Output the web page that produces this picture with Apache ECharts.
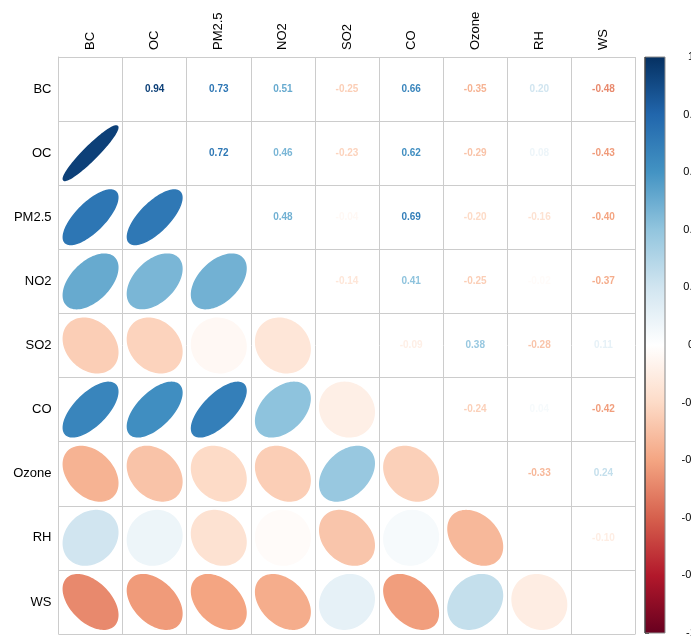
<!DOCTYPE html>
<html>
<head>
<meta charset="utf-8">
<script src="https://cdn.jsdelivr.net/npm/echarts@6/dist/echarts.min.js"></script>
<style>
  html, body { margin: 0; padding: 0; background: #ffffff; }
  #chart { width: 691px; height: 639px; }
</style>
</head>
<body>
<div id="chart"></div>
<script>
// Variables of the correlation matrix
const variables = ['BC', 'OC', 'PM2.5', 'NO2', 'SO2', 'CO', 'Ozone', 'RH', 'WS'];

// Pearson correlation coefficients, one row per variable
const rowBC    = [ 1.00,  0.94,  0.73,  0.51, -0.25,  0.66, -0.35,  0.20, -0.48];
const rowOC    = [ 0.94,  1.00,  0.72,  0.46, -0.23,  0.62, -0.29,  0.08, -0.43];
const rowPM25  = [ 0.73,  0.72,  1.00,  0.48, -0.04,  0.69, -0.20, -0.16, -0.40];
const rowNO2   = [ 0.51,  0.46,  0.48,  1.00, -0.14,  0.41, -0.25, -0.02, -0.37];
const rowSO2   = [-0.25, -0.23, -0.04, -0.14,  1.00, -0.09,  0.38, -0.28,  0.11];
const rowCO    = [ 0.66,  0.62,  0.69,  0.41, -0.09,  1.00, -0.24,  0.04, -0.42];
const rowOzone = [-0.35, -0.29, -0.20, -0.25,  0.38, -0.24,  1.00, -0.33,  0.24];
const rowRH    = [ 0.20,  0.08, -0.16, -0.02, -0.28,  0.04, -0.33,  1.00, -0.10];
const rowWS    = [-0.48, -0.43, -0.40, -0.37,  0.11, -0.42,  0.24, -0.10,  1.00];

// Colour legend tick labels, bottom to top
const legendTicks = ['-1', '-0.8', '-0.6', '-0.4', '-0.2', '0', '0.2', '0.4', '0.6', '0.8', '1'];

// Diverging red-blue palette from -1 to 1
const palette = ['#67001F', '#B2182B', '#D6604D', '#F4A582', '#FDDBC7', '#FFFFFF',
                 '#D1E5F0', '#92C5DE', '#4393C3', '#2166AC', '#053061'];

const matrix = [rowBC, rowOC, rowPM25, rowNO2, rowSO2, rowCO, rowOzone, rowRH, rowWS];

// Lower triangle -> ellipses, upper triangle -> numbers
const lowerCells = [];
const upperCells = [];
matrix.forEach(function (row, i) {
  row.forEach(function (r, j) {
    if (i > j) lowerCells.push([j, i, r]);
    else if (j > i) upperCells.push([j, i, r]);
  });
});

const FONT = '"Liberation Sans", Arial, sans-serif';
const GRID_LINE = '#cccccc';

function renderEllipse(params, api) {
  const c = api.coord([api.value(0), api.value(1)]);
  const s = api.size([1, 1]);
  const r = api.value(2);
  const a = Math.acos(r);
  const pts = [];
  const n = 99;
  for (let i = 0; i < n; i++) {
    const k = 2 * Math.PI * i / (n - 1);
    const x = Math.cos(k + a / 2) / 2 * 0.85;
    const y = Math.cos(k - a / 2) / 2 * 0.85;
    pts.push([c[0] + x * s[0], c[1] - y * s[1]]);
  }
  const col = api.visual('color');
  return {
    type: 'polygon',
    shape: { points: pts },
    style: { fill: col, stroke: col, lineWidth: 1.5 }
  };
}

function renderNumber(params, api) {
  const c = api.coord([api.value(0), api.value(1)]);
  const r = api.value(2);
  return {
    type: 'text',
    style: {
      x: c[0], y: c[1],
      text: r.toFixed(2),
      textAlign: 'center',
      textVerticalAlign: 'middle',
      fill: api.visual('color'),
      font: 'bold 10px ' + FONT
    }
  };
}

function renderLegendBar(params, api) {
  const p0 = api.coord([0, 1]);
  const p1 = api.coord([1, -1]);
  const stops = palette.slice().reverse().map(function (col, i) {
    return { offset: i / (palette.length - 1), color: col };
  });
  return {
    type: 'group',
    children: [
      {
        type: 'rect',
        shape: { x: p0[0], y: p0[1], width: p1[0] - p0[0], height: p1[1] - p0[1] },
        style: {
          fill: new echarts.graphic.LinearGradient(0, 0, 0, 1, stops),
          stroke: '#8c8c8c', lineWidth: 1
        }
      },
      {
        type: 'line',
        shape: { x1: p0[0], y1: p0[1], x2: p0[0], y2: p1[1] },
        style: { stroke: '#222222', lineWidth: 1 }
      }
    ]
  };
}

const chart = echarts.init(document.getElementById('chart'), null, { renderer: 'canvas' });

chart.setOption({
  backgroundColor: '#ffffff',
  animation: false,
  grid: [
    { left: 58.5, top: 57, width: 577, height: 577, outerBoundsMode: 'none', containLabel: false },
    { left: 645, top: 57, width: 20, height: 576, outerBoundsMode: 'none', containLabel: false }
  ],
  xAxis: [
    {
      type: 'category', gridIndex: 0, data: variables, position: 'top',
      axisLine: { show: true, lineStyle: { color: GRID_LINE, width: 1 } },
      axisTick: { show: false },
      axisLabel: { rotate: -90, margin: 7, fontSize: 13, color: '#000000', fontFamily: FONT, interval: 0 },
      splitLine: { show: true, interval: 0, lineStyle: { color: GRID_LINE, width: 1 } }
    },
    {
      type: 'value', gridIndex: 1, min: 0, max: 1, show: false
    }
  ],
  yAxis: [
    {
      type: 'category', gridIndex: 0, data: variables, inverse: true,
      axisLine: { show: true, lineStyle: { color: GRID_LINE, width: 1 } },
      axisTick: { show: false },
      axisLabel: { margin: 7, fontSize: 13, color: '#000000', fontFamily: FONT, interval: 0 },
      splitLine: { show: true, interval: 0, lineStyle: { color: GRID_LINE, width: 1 } }
    },
    {
      type: 'value', gridIndex: 1, min: -1, max: 1, interval: 0.2, position: 'right',
      axisLine: { show: false },
      axisTick: { show: true, length: 4, lineStyle: { color: '#333333', width: 1 } },
      axisLabel: {
        margin: 26, fontSize: 11, color: '#000000', fontFamily: FONT, align: 'center',
        showMinLabel: true, showMaxLabel: true,
        formatter: function (v) { return legendTicks[Math.round((v + 1) / 0.2)]; }
      },
      splitLine: { show: false }
    }
  ],
  visualMap: {
    type: 'continuous', show: false, min: -1, max: 1, dimension: 2,
    seriesIndex: [0, 1],
    inRange: { color: palette }
  },
  series: [
    {
      type: 'custom', xAxisIndex: 0, yAxisIndex: 0,
      renderItem: renderEllipse, data: lowerCells, silent: true
    },
    {
      type: 'custom', xAxisIndex: 0, yAxisIndex: 0,
      renderItem: renderNumber, data: upperCells, silent: true
    },
    {
      type: 'custom', xAxisIndex: 1, yAxisIndex: 1,
      renderItem: renderLegendBar, data: [[0, 0]], silent: true, z: 1
    }
  ]
});
</script>
</body>
</html>
